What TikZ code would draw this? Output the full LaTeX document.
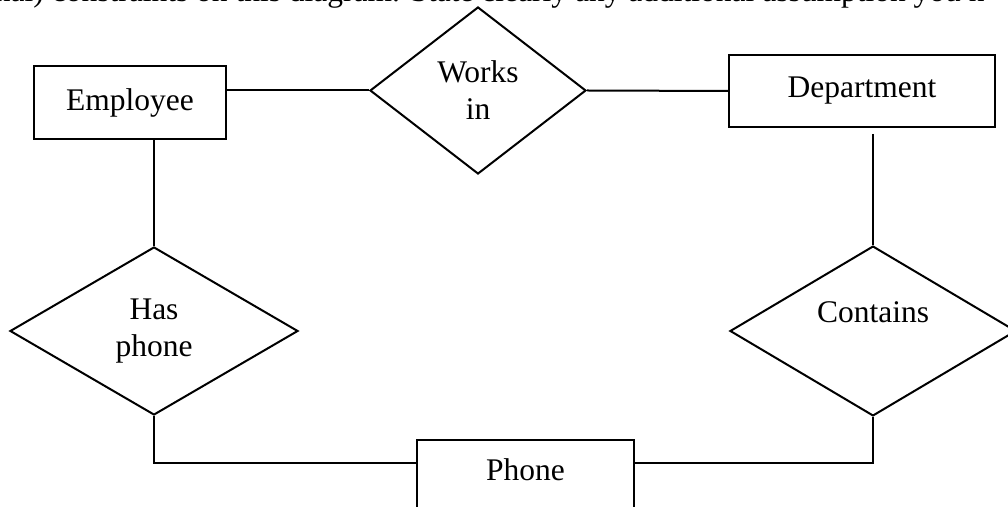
\documentclass[tikz,border=0pt]{standalone}
\usepackage{fontspec}
\setmainfont{Liberation Serif}
\usetikzlibrary{shapes.geometric}
\tikzset{
  entity/.style={draw, rectangle, inner sep=0pt},
  relation/.style={draw, diamond, inner sep=0pt, align=center},
}

\begin{document}
\begin{tikzpicture}[x=0.5pt, y=-0.5pt, line width=1pt, font=\fontsize{15.75}{18.5}\selectfont]
      \useasboundingbox (0,0) rectangle (1008,507);
      \clip (0,0) rectangle (1008,507);
      \node[anchor=base west, inner sep=0pt] (quest) at (-6,2) {nal) constraints on this diagram. State clearly any additional assumption you n};
      \node[entity, minimum width=96pt, minimum height=36.5pt] (emp) at (130,102.5) {Employee};
      \node[entity, minimum width=133pt, minimum height=36pt] (dept) at (862,91) {Department};
      \node[entity, anchor=north, minimum width=108.5pt, text height=20.5pt, text depth=30pt] (phone) at (525.5,439) {Phone};
      \node[relation, minimum width=108pt, minimum height=83.5pt] (works) at (478,90.5) {Works\\in};
      \node[relation, minimum width=144pt, minimum height=84pt] (hasph) at (154,331) {Has\\phone};
      \node[relation, minimum width=143pt, minimum height=84pt] (cont) at (873,331) {Contains\\\mbox{}};
      \draw (emp.east |- works.west) -- (works.west);
      \draw (works.east) -- (dept.west);
      \draw (emp.south -| hasph.north) -- (hasph.north);
      \draw ([yshift=-3pt]dept.south -| cont.north) -- (cont.north);
      \draw (hasph.south) |- ([yshift=-12pt]phone.north west);
      \draw (cont.south) |- ([yshift=-12pt]phone.north east);
    \end{tikzpicture}
\end{document}
